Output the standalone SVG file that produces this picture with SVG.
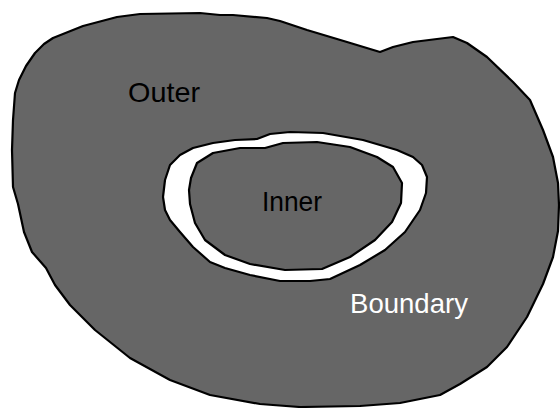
<svg xmlns="http://www.w3.org/2000/svg" width="560" height="408" viewBox="0 0 560 408">
<style>
.shape{stroke:#000;stroke-width:2.2;stroke-linejoin:round}
.gray{fill:#666666}
.white{fill:#ffffff}
.lbl{font-family:"Liberation Sans",Arial,sans-serif;font-size:28.5px}
</style>
<rect width="560" height="408" fill="#ffffff"/>
<g id="outer">
<path class="shape gray" d="M53,38 L83,26 L117,17 L140,14 L200,13 L220,15 L233,15 L267,18 L280,21 L307,30 L347,42 L380,52 L393,47 L413,42 L453,37 L467,43 L487,57 L513,82 L530,100 L543,130 L553,157 L558,183 L559,205 L558,231 L553,257 L543,284 L527,317 L507,347 L487,367 L460,384 L440,395 L400,403 L360,406 L300,407 L260,404 L210,395 L170,380 L130,358 L95,330 L70,305 L55,285 L46,268 L32,252 L24,232 L18,204 L13,187 L12,150 L13,120 L15,93 L19,80 L26,66 L35,53 L44,44 Z"/>
<text class="lbl" x="128" y="102" fill="#000" textLength="72" lengthAdjust="spacingAndGlyphs">Outer</text>
</g>
<g id="boundary">
<path class="shape white" d="M163,197 L165,180 L170,165 L180,155 L193,148 L213,143 L235,140 L257,139 L270,134 L290,132 L323,133 L363,140 L397,150 L413,157 L422,165 L427,177 L426,193 L420,210 L405,232 L385,250 L360,265 L330,279 L310,281 L280,281 L250,275 L225,268 L210,262 L193,247 L180,232 L170,220 L165,210 Z"/>
<text class="lbl" x="350" y="313" fill="#ffffff" textLength="118" lengthAdjust="spacingAndGlyphs">Boundary</text>
</g>
<g id="inner">
<path class="shape gray" d="M190,204 L189,190 L191,178 L197,163 L213,153 L240,148 L265,148 L283,143 L317,142 L350,147 L377,157 L393,167 L402,183 L401,203 L392,222 L375,240 L350,257 L322,269 L285,270 L250,264 L225,255 L205,240 L195,223 Z"/>
<text class="lbl" x="262" y="211" fill="#000" textLength="60" lengthAdjust="spacingAndGlyphs">Inner</text>
</g>
</svg>
